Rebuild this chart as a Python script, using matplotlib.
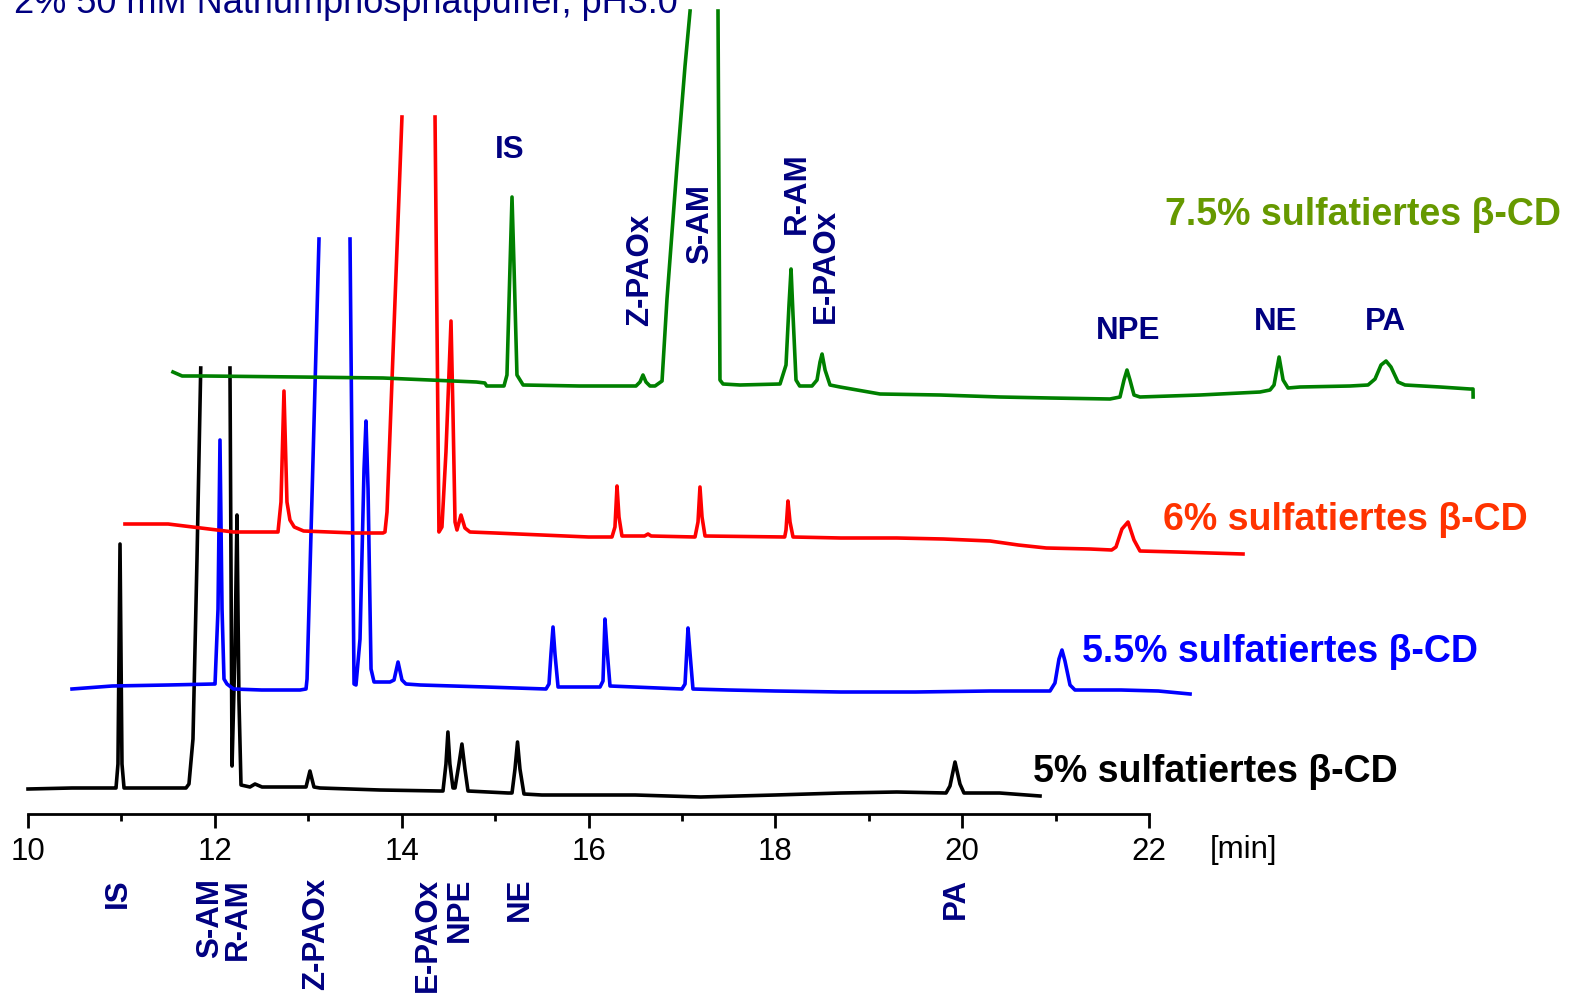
import numpy as np
import matplotlib.pyplot as plt

nan = np.nan

# electropherograms, time [min] as drawn on the (staggered) axis, signal relative to own baseline
t_5 = [10.000, 10.471, 10.931, 10.942, 10.963, 10.985, 11.006, 11.028, 11.306, 11.691, 11.723,
       11.766, 11.809, 11.849, nan, 12.162, 12.184, 12.216, 12.237, 12.258, 12.280, 12.376,
       12.430, 12.505, 12.944, 12.976, 13.018, 13.061, 13.126, 13.768, 14.410, 14.442, 14.474,
       14.495, 14.516, 14.549, 14.571, 14.613, 14.645, 14.677, 14.710, 15.138, 15.181, 15.213,
       15.240, 15.266, 15.309, 15.500, 16.500, 17.200, 18.000, 18.700, 19.300, 19.827, 19.869,
       19.923, 19.976, 20.019, 20.400, 20.833]
s_5 = [0.0, 0.1, 0.1, 0.1, 2.5, 24.5, 2.5, 0.1, 0.1, 0.1, 0.5,
       5.0, 23.0, 42.1, nan, 42.1, 2.3, 14.0, 27.4, 9.0, 0.4, 0.2,
       0.5, 0.2, 0.2, 0.2, 1.8, 0.2, 0.1, -0.1, -0.2, -0.2, 2.5,
       5.7, 2.5, 0.1, 0.1, 2.5, 4.5, 2.0, -0.2, -0.4, -0.4, 2.0,
       4.7, 2.0, -0.5, -0.6, -0.6, -0.8, -0.6, -0.4, -0.3, -0.4, 0.3,
       2.7, 0.5, -0.4, -0.4, -0.7]

t_55 = [10.471, 10.900, 11.500, 11.990, 12.002, 12.034, 12.055, 12.077, 12.098, 12.130, 12.200,
        12.500, 12.912, 12.976, 12.987, 13.115, nan, 13.447, 13.490, 13.511, 13.554, 13.597,
        13.618, 13.640, 13.672, 13.704, 13.875, 13.918, 13.961, 14.003, 14.046, 14.200, 14.900,
        15.545, 15.577, 15.598, 15.620, 15.641, 15.674, 16.123, 16.155, 16.176, 16.198, 16.230,
        17.000, 17.033, 17.065, 17.087, 17.118, 17.500, 18.000, 18.700, 19.500, 20.300, 20.940,
        20.993, 21.036, 21.068, 21.100, 21.154, 21.207, 21.700, 22.100, 22.439]
s_55 = [0.0, 0.3, 0.4, 0.5, 0.5, 8.0, 24.9, 8.0, 1.0, 0.5, 0.0,
        -0.1, -0.1, 0.0, 1.0, 45.0, nan, 45.0, 0.5, 0.4, 5.0, 22.0,
        26.8, 20.0, 2.0, 0.7, 0.7, 0.9, 2.7, 0.9, 0.5, 0.4, 0.2,
        0.0, 0.5, 3.5, 6.2, 3.5, 0.2, 0.2, 0.8, 7.0, 4.0, 0.3,
        0.0, 0.5, 6.1, 3.5, 0.0, -0.1, -0.2, -0.3, -0.3, -0.2, -0.2,
        0.6, 3.0, 3.9, 2.8, 0.4, -0.1, -0.1, -0.2, -0.5]

t_6 = [11.038, 11.500, 11.850, 12.200, 12.676, 12.708, 12.740, 12.772, 12.804, 12.850, 12.950,
       13.500, 13.800, 13.821, 13.843, 14.003, nan, 14.357, 14.399, 14.431, 14.474, 14.528,
       14.549, 14.571, 14.592, 14.635, 14.677, 14.731, 15.000, 15.500, 16.000, 16.251, 16.283,
       16.305, 16.326, 16.358, 16.600, 16.637, 16.670, 17.140, 17.172, 17.193, 17.215, 17.247,
       18.100, 18.114, 18.135, 18.157, 18.189, 18.700, 19.300, 19.800, 20.298, 20.600, 20.900,
       21.368, 21.600, 21.646, 21.710, 21.775, 21.839, 21.903, 22.300, 23.006]
s_6 = [0.8, 0.8, 0.4, 0.0, 0.0, 3.0, 14.1, 3.0, 1.2, 0.5, 0.1,
       -0.1, -0.1, 0.0, 2.0, 41.5, nan, 41.5, 0.0, 0.5, 8.0, 21.1,
       12.0, 1.0, 0.2, 1.7, 0.4, 0.0, -0.1, -0.3, -0.5, -0.5, 0.5,
       4.6, 1.5, -0.4, -0.4, -0.2, -0.4, -0.5, 1.0, 4.5, 1.5, -0.4,
       -0.5, 0.2, 3.1, 1.0, -0.5, -0.6, -0.6, -0.7, -0.9, -1.3, -1.6,
       -1.7, -1.8, -1.5, 0.3, 1.0, -0.8, -1.9, -2.0, -2.2]

t_75 = [11.552, 11.650, 11.900, 12.900, 13.800, 14.300, 14.800, 14.890, 14.910, 15.095, 15.127,
        15.160, 15.181, 15.202, 15.234, 15.300, 15.900, 16.508, 16.551, 16.583, 16.615, 16.658,
        16.712, 16.787, 16.840, 16.947, 17.033, 17.087, nan, 17.386, 17.407, 17.440, 17.622,
        18.050, 18.114, 18.146, 18.168, 18.189, 18.221, 18.260, 18.392, 18.446, 18.478, 18.500,
        18.532, 18.585, 18.692, 19.120, 19.763, 20.405, 20.940, 21.582, 21.689, 21.732, 21.764,
        21.796, 21.839, 21.903, 22.546, 23.188, 23.295, 23.338, 23.392, 23.435, 23.488, 23.616,
        24.152, 24.344, 24.419, 24.483, 24.537, 24.590, 24.665, 24.740, 25.115, 25.436, 25.468,
        25.469]
s_75 = [1.3, 0.9, 0.9, 0.8, 0.7, 0.5, 0.3, 0.2, -0.1, -0.1, 1.0,
        12.0, 18.8, 12.0, 1.0, 0.0, -0.1, -0.1, 0.3, 1.0, 0.3, -0.1,
        -0.1, 0.4, 8.6, 21.9, 31.9, 37.4, nan, 37.4, 0.5, 0.1, 0.0,
        0.1, 2.0, 8.0, 11.6, 7.0, 0.5, -0.1, -0.1, 0.5, 2.3, 3.1,
        1.5, 0.0, -0.2, -0.9, -1.0, -1.2, -1.3, -1.4, -1.2, 0.5, 1.5,
        0.5, -1.0, -1.2, -1.0, -0.7, -0.5, 0.0, 2.8, 0.5, -0.3, -0.2,
        -0.1, 0.0, 0.6, 2.0, 2.4, 1.8, 0.3, 0.0, -0.2, -0.4, -0.4,
        -1.2]

traces = [(t_5, s_5), (t_55, s_55), (t_6, s_6), (t_75, s_75)]
offsets = [2.5, 12.5, 28.2, 42.9]
trace_colors = ['black', '#0000ff', '#ff0000', '#008000']

trace_labels = ['5% sulfatiertes β-CD', '5.5% sulfatiertes β-CD',
                '6% sulfatiertes β-CD', '7.5% sulfatiertes β-CD']
label_colors = ['black', '#0000ff', '#ff3300', '#669900']
label_pos = [(20.76, 4.3), (21.28, 16.3), (22.15, 29.5), (22.17, 60.0)]

# peak names under the axis (5% run) and above the 7.5% run
bottom_names = ['IS', 'S-AM', 'R-AM', 'Z-PAOx', 'E-PAOx', 'NPE', 'NE', 'PA']
bottom_t = [10.96, 11.95, 12.25, 13.08, 14.28, 14.62, 15.26, 19.93]

top_names = ['IS', 'Z-PAOx', 'S-AM', 'R-AM', 'E-PAOx', 'NPE', 'NE', 'PA']
top_t = [15.16, 16.55, 17.19, 18.23, 18.54, 21.78, 23.36, 24.53]
top_y = [66.5, 54.5, 59.1, 62.2, 54.9, 48.4, 49.3, 49.3]
top_rot = [0, 90, 90, 90, 90, 0, 0, 0]

navy = '#000080'
plt.rcParams['font.family'] = ['Liberation Sans', 'DejaVu Sans']

fig = plt.figure(figsize=(15.69, 9.95), dpi=100)
ax = fig.add_axes([0, 180 / 995, 1, 815 / 995])

for (t, s), off, c in zip(traces, offsets, trace_colors):
    ax.plot(t, np.array(s) + off, color=c, lw=2.6)

for txt, c, (x, y) in zip(trace_labels, label_colors, label_pos):
    ax.text(x, y, txt, color=c, fontsize=27, fontweight='bold', ha='left', va='center')

for name, x in zip(bottom_names, bottom_t):
    ax.text(x, -6.3, name, color=navy, fontsize=22.5, fontweight='bold',
            rotation=90, ha='center', va='top')

for name, x, y, r in zip(top_names, top_t, top_y, top_rot):
    ax.text(x, y, name, color=navy, fontsize=22.5, fontweight='bold',
            rotation=r, ha='center', va='center')

ax.text(22.65, -3.5, '[min]', fontsize=22.5, ha='left', va='center')

fig.text(678 / 1569, 1 - 13 / 995, '2% 50 mM Natriumphosphatpuffer, pH3.0',
         color=navy, fontsize=26, ha='right', va='baseline')

ax.set_xlim(10 - 28 / 93.42, 10 + 1541 / 93.42)
ax.set_ylim(0, 81.5)
for side in ['left', 'right', 'top']:
    ax.spines[side].set_visible(False)
ax.spines['bottom'].set_bounds(10, 22)
ax.spines['bottom'].set_linewidth(2)
ax.set_yticks([])
ax.set_xticks(range(10, 23, 2))
ax.set_xticks(range(11, 22, 2), minor=True)
ax.tick_params(axis='x', which='major', length=10, width=2, labelsize=22.5, pad=6)
ax.tick_params(axis='x', which='minor', length=5, width=2)
ax.patch.set_alpha(0)

fig.savefig('out.png', dpi=100)
